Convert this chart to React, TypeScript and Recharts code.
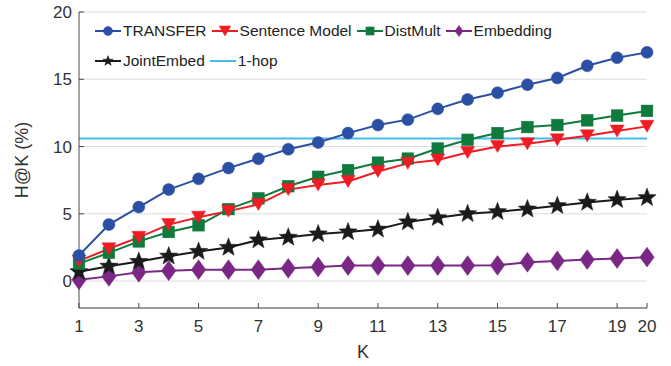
import React from 'react';
import { LineChart, Line, XAxis, YAxis, CartesianGrid, ReferenceLine } from 'recharts';

const kValues = [1, 2, 3, 4, 5, 6, 7, 8, 9, 10, 11, 12, 13, 14, 15, 16, 17, 18, 19, 20];
const transfer = [1.9, 4.2, 5.5, 6.8, 7.6, 8.4, 9.1, 9.8, 10.3, 11.0, 11.6, 12.0, 12.8, 13.5, 14.0, 14.6, 15.1, 16.0, 16.6, 17.0];
const sentenceModel = [1.5, 2.4, 3.25, 4.2, 4.75, 5.2, 5.7, 6.8, 7.15, 7.4, 8.15, 8.75, 9.0, 9.55, 10.0, 10.2, 10.5, 10.8, 11.15, 11.5];
const distMult = [1.3, 2.1, 2.95, 3.65, 4.15, 5.35, 6.15, 7.05, 7.75, 8.25, 8.8, 9.1, 9.85, 10.5, 11.0, 11.45, 11.6, 11.95, 12.3, 12.65];
const jointEmbed = [0.7, 1.1, 1.45, 1.85, 2.2, 2.5, 3.05, 3.25, 3.5, 3.65, 3.85, 4.4, 4.7, 5.0, 5.15, 5.35, 5.6, 5.85, 6.05, 6.2];
const embedding = [0.1, 0.35, 0.65, 0.77, 0.85, 0.85, 0.85, 0.95, 1.05, 1.15, 1.15, 1.15, 1.15, 1.15, 1.17, 1.4, 1.5, 1.6, 1.68, 1.78];
const oneHop = 10.6;

const xTicks = [1, 3, 5, 7, 9, 11, 13, 15, 17, 19, 20];
const yTicks = [0, 5, 10, 15, 20];

const data = kValues.map((k, i) => ({
  k,
  transfer: transfer[i],
  sentence: sentenceModel[i],
  distmult: distMult[i],
  joint: jointEmbed[i],
  embedding: embedding[i],
}));

const C_BLUE = '#2b4fa3';
const C_RED = '#f01c24';
const C_GREEN = '#0f7a3c';
const C_PURPLE = '#7a2785';
const C_BLACK = '#1a1a1a';
const C_LIGHT = '#45bbe8';
const AXIS = '#4a4a4a';
const FONT = '"Liberation Sans", Arial, Helvetica, sans-serif';

type Shape = 'circle' | 'tri' | 'square' | 'diamond' | 'star';

function MarkerShape({ shape, cx, cy, color, s }: { shape: Shape; cx: number; cy: number; color: string; s: number }) {
  if (shape === 'circle') return <circle cx={cx} cy={cy} r={s * 0.5} fill={color} stroke={color} strokeWidth={0.5} />;
  if (shape === 'square') {
    const h = s * 0.45;
    return <rect x={cx - h} y={cy - h} width={2 * h} height={2 * h} fill={color} stroke={color} strokeWidth={0.5} />;
  }
  if (shape === 'tri') {
    const w = s * 0.58;
    const h = s * 0.5;
    return <polygon points={`${cx - w},${cy - h} ${cx + w},${cy - h} ${cx},${cy + h}`} fill={color} stroke={color} strokeWidth={0.5} />;
  }
  if (shape === 'diamond') {
    const w = s * 0.45;
    const h = s * 0.62;
    return <polygon points={`${cx},${cy - h} ${cx + w},${cy} ${cx},${cy + h} ${cx - w},${cy}`} fill={color} stroke={color} strokeWidth={0.5} />;
  }
  const R = s * 0.6;
  const r = R * 0.42;
  const pts: string[] = [];
  for (let i = 0; i < 10; i++) {
    const a = -Math.PI / 2 + (i * Math.PI) / 5;
    const rr = i % 2 === 0 ? R : r;
    pts.push(`${cx + rr * Math.cos(a)},${cy + rr * Math.sin(a)}`);
  }
  return <polygon points={pts.join(' ')} fill={color} stroke={color} strokeWidth={0.5} />;
}

const makeDot = (shape: Shape, color: string, s: number) => (props: any) => {
  const { cx, cy, index } = props;
  if (cx == null || cy == null) return <g key={`d-${shape}-${index}`} />;
  return (
    <g key={`d-${shape}-${index}`}>
      <MarkerShape shape={shape} cx={cx} cy={cy} color={color} s={s} />
    </g>
  );
};

const legendRow1 = [
  { name: 'TRANSFER', color: C_BLUE, shape: 'circle' as Shape },
  { name: 'Sentence Model', color: C_RED, shape: 'tri' as Shape },
  { name: 'DistMult', color: C_GREEN, shape: 'square' as Shape },
  { name: 'Embedding', color: C_PURPLE, shape: 'diamond' as Shape },
];
const legendRow2 = [
  { name: 'JointEmbed', color: C_BLACK, shape: 'star' as Shape },
  { name: '1-hop', color: C_LIGHT, shape: null as Shape | null },
];

function LegendItem({ name, color, shape }: { name: string; color: string; shape: Shape | null }) {
  return (
    <div style={{ display: 'flex', alignItems: 'center', marginRight: 4 }}>
      <svg width={28} height={16} style={{ display: 'block' }}>
        <line x1={1} y1={8} x2={27} y2={8} stroke={color} strokeWidth={2} />
        {shape && <MarkerShape shape={shape} cx={14} cy={8} color={color} s={shape === 'tri' ? 10 : 9} />}
      </svg>
      <span style={{ marginLeft: 1, fontSize: 15.5, color: '#222', whiteSpace: 'nowrap' }}>{name}</span>
    </div>
  );
}

export default function App() {
  return (
    <div style={{ position: 'absolute', left: 0, top: 0, width: 671, height: 366, background: '#fff', fontFamily: FONT }}>
      <LineChart width={671} height={366} data={data} margin={{ top: 12, right: 24, bottom: 8, left: 0 }}>
        <CartesianGrid horizontal={true} vertical={false} stroke="#dcdcdc" strokeWidth={1} />
        <XAxis
          xAxisId={0}
          dataKey="k"
          type="number"
          domain={[1, 20]}
          ticks={xTicks}
          interval={0}
          height={50}
          stroke={AXIS}
          tickSize={-5}
          tickMargin={17}
          tick={{ fill: '#333', fontSize: 17, fontFamily: FONT }}
          tickLine={{ stroke: AXIS }}
          axisLine={{ stroke: AXIS }}
        />
        <XAxis
          xAxisId="top"
          orientation="top"
          type="number"
          domain={[1, 20]}
          ticks={xTicks}
          interval={0}
          height={0}
          tick={false}
          tickSize={-5}
          stroke={AXIS}
          tickLine={{ stroke: AXIS }}
          axisLine={{ stroke: AXIS }}
        />
        <YAxis
          yAxisId={0}
          type="number"
          domain={[-2, 20]}
          ticks={yTicks}
          interval={0}
          width={79}
          allowDataOverflow
          stroke={AXIS}
          tickSize={-5}
          tickMargin={12}
          tick={{ fill: '#333', fontSize: 17, fontFamily: FONT }}
          tickLine={{ stroke: AXIS }}
          axisLine={{ stroke: AXIS }}
        />
        <YAxis
          yAxisId="right"
          orientation="right"
          type="number"
          domain={[-2, 20]}
          ticks={yTicks}
          interval={0}
          width={0}
          allowDataOverflow
          tick={false}
          tickSize={-5}
          stroke={AXIS}
          tickLine={{ stroke: AXIS }}
          axisLine={{ stroke: AXIS }}
        />
        <ReferenceLine y={oneHop} xAxisId={0} yAxisId={0} stroke={C_LIGHT} strokeWidth={2} ifOverflow="visible" />
        <Line dataKey="embedding" xAxisId={0} yAxisId={0} stroke={C_PURPLE} strokeWidth={2} dot={makeDot('diamond', C_PURPLE, 16)} isAnimationActive={false} />
        <Line dataKey="joint" xAxisId={0} yAxisId={0} stroke={C_BLACK} strokeWidth={2} dot={makeDot('star', C_BLACK, 16)} isAnimationActive={false} />
        <Line dataKey="distmult" xAxisId={0} yAxisId={0} stroke={C_GREEN} strokeWidth={2} dot={makeDot('square', C_GREEN, 13)} isAnimationActive={false} />
        <Line dataKey="sentence" xAxisId={0} yAxisId={0} stroke={C_RED} strokeWidth={2} dot={makeDot('tri', C_RED, 12)} isAnimationActive={false} />
        <Line dataKey="transfer" xAxisId={0} yAxisId={0} stroke={C_BLUE} strokeWidth={2} dot={makeDot('circle', C_BLUE, 12)} isAnimationActive={false} />
      </LineChart>
      <div style={{ position: 'absolute', left: 94, top: 22, display: 'flex', flexDirection: 'column', gap: 12 }}>
        <div style={{ display: 'flex' }}>
          {legendRow1.map((it) => (
            <LegendItem key={it.name} {...it} />
          ))}
        </div>
        <div style={{ display: 'flex' }}>
          {legendRow2.map((it) => (
            <LegendItem key={it.name} {...it} />
          ))}
        </div>
      </div>
      <svg style={{ position: 'absolute', left: 0, top: 0 }} width={671} height={366} pointerEvents="none">
        <text x={28} y={160} transform="rotate(-90 28 160)" textAnchor="middle" fontSize={18} fill="#333" fontFamily={FONT}>
          H@K (%)
        </text>
        <text x={363} y={358} textAnchor="middle" fontSize={18} fill="#333" fontFamily={FONT}>
          K
        </text>
      </svg>
    </div>
  );
}
